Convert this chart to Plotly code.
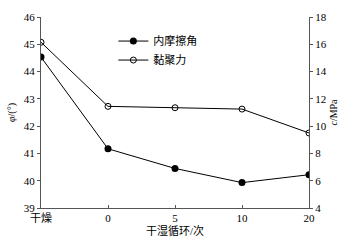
import plotly.graph_objects as go

categories = ["干燥", "0", "5", "10", "20"]
friction = [44.53, 41.17, 40.45, 39.93, 40.22]
cohesion = [16.15, 11.45, 11.35, 11.25, 9.5]

FONT = "Liberation Serif, Times New Roman, Noto Sans CJK SC, serif"

fig = go.Figure()
fig.add_trace(go.Scatter(
    x=categories, y=friction, name="内摩擦角", mode="lines+markers",
    line=dict(color="black", width=1),
    marker=dict(symbol="circle", size=7, color="black"),
))
fig.add_trace(go.Scatter(
    x=categories, y=cohesion, name="黏聚力", mode="lines+markers", yaxis="y2",
    line=dict(color="black", width=1),
    marker=dict(symbol="circle-open", size=6, color="black", line=dict(width=1)),
))

fig.update_layout(
    width=349, height=245,
    margin=dict(l=39, r=40, t=11, b=33),
    paper_bgcolor="white", plot_bgcolor="white",
    font=dict(family=FONT, size=11, color="black"),
    showlegend=True,
    legend=dict(x=0.27, y=0.95, xanchor="left", yanchor="top",
                bgcolor="rgba(0,0,0,0)", font=dict(size=11),
                itemwidth=30, tracegroupgap=0),
    xaxis=dict(
        type="category", range=[0, 4],
        showline=True, linecolor="#555", linewidth=1,
        ticks="inside", ticklen=3, tickcolor="#555",
        showgrid=False, zeroline=False,
        title=dict(text="干湿循环/次", font=dict(size=11), standoff=2),
        tickfont=dict(size=11),
    ),
    yaxis=dict(
        range=[39, 46], dtick=1,
        showline=True, linecolor="#555", linewidth=1,
        ticks="outside", ticklen=3, tickcolor="#555",
        showgrid=False, zeroline=False,
        title=dict(text="<i>φ</i>/(°)", font=dict(size=10), standoff=6),
        tickfont=dict(size=11),
    ),
    yaxis2=dict(
        range=[4, 18], dtick=2, overlaying="y", side="right",
        showline=True, linecolor="#555", linewidth=1,
        ticks="outside", ticklen=3, tickcolor="#555",
        showgrid=False, zeroline=False,
        title=dict(text="<i>c</i>/MPa", font=dict(size=10), standoff=4),
        tickfont=dict(size=11),
    ),
)

fig.write_html("out.html")
